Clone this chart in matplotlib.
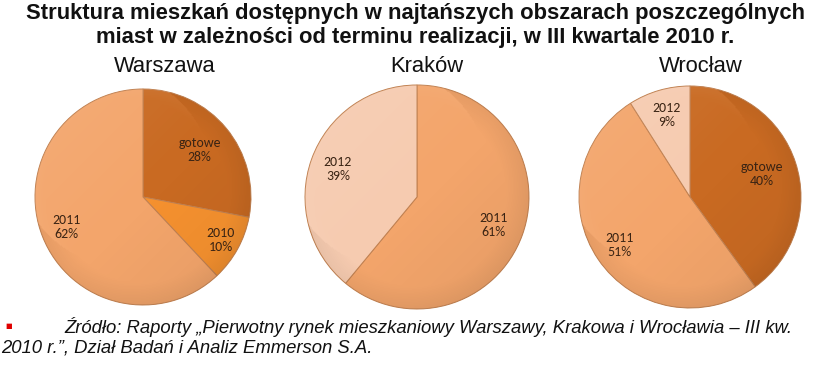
import matplotlib
matplotlib.use("Agg")
import matplotlib.pyplot as plt
import numpy as np
from matplotlib.patches import Circle

W, H = 830, 373

title_lines = [
    "Struktura mieszkań dostępnych w najtańszych obszarach poszczególnych",
    "miast w zależności od terminu realizacji, w III kwartale 2010 r.",
]
cities = ["Warszawa", "Kraków", "Wrocław"]
labels = [
    ["gotowe", "2010", "2011"],
    ["2011", "2012"],
    ["gotowe", "2011", "2012"],
]
values = [
    [28, 10, 62],
    [61, 39],
    [40, 51, 9],
]
source_lines = [
    "Źródło: Raporty „Pierwotny rynek mieszkaniowy Warszawy, Krakowa i Wrocławia – III kw.",
    "2010 r.”, Dział Badań i Analiz Emmerson S.A.",
]

colors = {
    "gotowe": "#C96A22",
    "2010": "#F5912F",
    "2011": "#F3A56B",
    "2012": "#F6CBB0",
}
# pie centres / radii in pixels (from top-left), label radial fraction
centres = [(143, 197, 108), (417, 197, 112), (690, 197, 111)]
label_frac = [[0.68, 0.82, 0.76], [0.73, 0.75], [0.68, 0.77, 0.77]]

sans = ["Liberation Sans", "DejaVu Sans"]
label_font = ["Carlito", "Open Sans", "DejaVu Sans"]

fig = plt.figure(figsize=(W / 100, H / 100), dpi=100)
fig.patch.set_facecolor("white")

fig.text(0.5, 1 - 14 / H, title_lines[0], ha="center", va="center",
         fontsize=15.8, fontweight="bold", family=sans, color="#111111")
fig.text(0.5, 1 - 38 / H, title_lines[1], ha="center", va="center",
         fontsize=15.8, fontweight="bold", family=sans, color="#111111")

city_x = [165, 427, 701]
for cx, name in zip(city_x, cities):
    fig.text(cx / W, 1 - 66 / H, name, ha="center", va="center",
             fontsize=15.8, family=sans, color="#111111")

# soft shading overlay: light top-left, a bit darker towards bottom-right and rim
g = np.linspace(-1, 1, 200)
gx, gy = np.meshgrid(g, g)
rr = np.sqrt(gx**2 + gy**2)
diag = (gx - gy) / 2.0
shade = np.zeros((200, 200, 4))
dark = np.clip(0.06 * diag + 0.05 * np.clip(rr - 0.8, 0, None) / 0.2, 0, None)
light = np.clip(-0.08 * diag, 0, None)
shade[..., :3] = np.where((light > dark)[..., None], 1.0, 0.0)
shade[..., 3] = np.clip(dark + light, 0, 0.2)

for i, (cx, cy, r) in enumerate(centres):
    ax = fig.add_axes([(cx - r) / W, (H - cy - r) / H, 2 * r / W, 2 * r / H])
    wedges, _ = ax.pie(
        values[i],
        colors=[colors[l] for l in labels[i]],
        startangle=90,
        counterclock=False,
        radius=1.0,
        wedgeprops=dict(edgecolor="#C08050", linewidth=0.7),
    )
    im = ax.imshow(shade, extent=(-1, 1, -1, 1), origin="lower", zorder=3,
                   interpolation="bilinear")
    im.set_clip_path(Circle((0, 0), 1.0, transform=ax.transData))
    for w, lab, v, f in zip(wedges, labels[i], values[i], label_frac[i]):
        ang = np.deg2rad((w.theta1 + w.theta2) / 2)
        ax.text(f * np.cos(ang), f * np.sin(ang), f"{lab}\n{v}%",
                ha="center", va="center", fontsize=10, family=label_font,
                color="#3A2414", linespacing=1.2, zorder=5)
    ax.set_xlim(-1, 1)
    ax.set_ylim(-1, 1)
    ax.set_aspect("equal")
    ax.axis("off")

fig.text(5 / W, 1 - 326 / H, "■", ha="left", va="center", fontsize=5,
         color="#E00000")
fig.text(64 / W, 1 - 327 / H, source_lines[0], ha="left", va="center",
         fontsize=13.3, style="italic", family=sans, color="#111111")
fig.text(1 / W, 1 - 348 / H, source_lines[1], ha="left", va="center",
         fontsize=13.3, style="italic", family=sans, color="#111111")

fig.savefig("out.png", dpi=100)
